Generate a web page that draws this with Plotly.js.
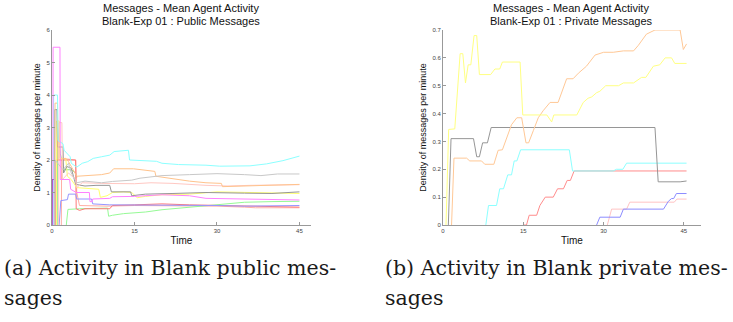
<!DOCTYPE html>
<html>
<head>
<meta charset="utf-8">
<script src="https://cdn.plot.ly/plotly-3.0.1.min.js"></script>
<style>html,body{margin:0;padding:0;background:#fff;}#chart{width:733px;height:322px;}</style>
</head>
<body>
<div id="chart"></div>
<script>
// ---------- Public messages (left) ----------
const pubMagentaT = [0.15, 0.2, 1.45, 1.5, 3.2, 3.4, 4.4, 6.8, 6.9, 7.3, 7.4, 10.5, 11, 15, 20, 25, 28, 35, 38, 45];
const pubMagentaV = [0, 5.47, 5.47, 1.4, 1.4, 1.1, 1.0, 1.0, 0.72, 0.72, 0.8, 0.82, 0.87, 0.88, 0.93, 0.9, 0.82, 0.8, 0.77, 0.77];
const pubCyanT = [0.25, 0.3, 1.0, 1.1, 2.0, 2.2, 3.3, 3.5, 4.5, 5.5, 6.5, 7.5, 9, 10.5, 11.3, 12.5, 13.9, 14.1, 19, 20, 23, 28, 30.5, 36, 39, 42, 45];
const pubCyanV = [0, 4.0, 4.0, 2.6, 2.5, 2.3, 2.1, 1.9, 1.78, 1.9, 1.95, 2.05, 2.1, 2.15, 2.26, 2.28, 2.3, 2.0, 1.96, 1.9, 1.86, 1.84, 1.81, 1.82, 1.88, 1.98, 2.12];
const pubLightGrayT = [0.5, 0.55, 2.0, 3.0, 3.5, 4.5, 6, 9, 11, 14.5, 16, 18, 20, 25, 30, 35, 38, 41, 45];
const pubLightGrayV = [0, 2.0, 1.7, 1.9, 1.6, 1.3, 1.35, 1.3, 1.34, 1.38, 1.44, 1.49, 1.52, 1.55, 1.58, 1.55, 1.52, 1.57, 1.57];
const pubPeachT = [0.5, 0.55, 1.0, 1.1, 2.5, 3.0, 4.5, 7, 9, 10.5, 11.2, 14.8, 18.7, 18.9, 22, 25, 28, 30.8, 31, 35, 40, 45];
const pubPeachV = [0, 3.75, 3.75, 2.0, 2.05, 1.95, 1.5, 1.52, 1.55, 1.6, 1.73, 1.73, 1.65, 1.5, 1.42, 1.35, 1.3, 1.28, 1.18, 1.2, 1.22, 1.25];
const pubPinkT = [1.2, 1.25, 1.8, 1.9, 3.0, 4.3, 4.5, 5.5, 9, 15, 18, 22, 28, 32, 36, 45];
const pubPinkV = [0, 3.15, 3.15, 1.4, 1.6, 1.4, 1.15, 1.3, 1.28, 1.27, 1.3, 1.28, 1.22, 1.2, 1.22, 1.24];
const pubDarkGrayT = [0.45, 0.5, 0.9, 1.0, 2.0, 2.1, 2.7, 3.5, 4.3, 6, 8, 10.5, 10.8, 14.3, 14.5, 17, 22, 28, 35, 40, 45];
const pubDarkGrayV = [0, 3.55, 3.55, 2.4, 2.4, 1.6, 1.8, 1.75, 1.25, 1.2, 1.22, 1.22, 1.02, 1.02, 0.9, 0.95, 0.97, 1.0, 0.98, 0.97, 1.02];
const pubYellowT = [0.8, 0.85, 1.3, 1.4, 2.5, 2.8, 3.5, 4.5, 8.5, 8.8, 10, 11, 13, 14.5, 15.5, 17, 20, 25, 30, 35, 40, 45];
const pubYellowV = [0, 3.2, 3.2, 2.05, 2.05, 1.5, 1.4, 1.15, 1.1, 0.85, 0.9, 1.0, 1.02, 1.0, 0.84, 0.88, 0.93, 0.95, 1.02, 1.0, 0.98, 0.97];
const pubBlueT = [1.3, 1.6, 2.8, 3.0, 4.3, 4.5, 7.2, 7.4, 10.5, 15, 20, 25, 30, 35, 40, 45];
const pubBlueV = [0, 0.75, 0.78, 0.95, 0.95, 0.8, 0.8, 0.65, 0.62, 0.62, 0.6, 0.62, 0.6, 0.58, 0.6, 0.6];
const pubRedT = [0.65, 0.7, 4.3, 4.4, 5, 6, 10.5, 11, 15, 20, 25, 30, 35, 40, 45];
const pubRedV = [0, 2.0, 2.0, 0.5, 0.45, 0.5, 0.5, 0.6, 0.62, 0.65, 0.62, 0.6, 0.58, 0.57, 0.55];
const pubGreenT = [2.6, 2.9, 5, 10.1, 10.3, 11, 13, 17, 20, 25, 30, 35, 40, 45];
const pubGreenV = [0, 0.48, 0.5, 0.52, 0.27, 0.3, 0.35, 0.4, 0.47, 0.55, 0.62, 0.7, 0.72, 0.73];
const pubGreen2T = [0.95, 1.0, 1.5, 2.2, 3.5, 4.3, 4.5];
const pubGreen2V = [0, 3.0, 2.2, 1.7, 1.7, 1.6, 1.45];
const pubSalmonT = [1.7, 1.75, 4.3, 4.5, 5, 10, 15, 25, 30, 35, 37, 45];
const pubSalmonV = [0, 2.05, 2.0, 1.0, 0.6, 0.58, 0.6, 0.6, 0.58, 0.55, 0.53, 0.53];
const pubPurpleT = [0.02, 0.05, 0.3];
const pubPurpleV = [0, 1.4, 1.4];

// ---------- Private messages (right) ----------
const privYellowT = [0.56, 1.06, 2.2, 3.2, 3.7, 4.2, 4.7, 5.2, 5.8, 6.3, 6.8, 8.9, 9.7, 10.6, 11.1, 14.4, 14.9, 19.4, 20.3, 20.7, 25, 26.2, 27.1, 27.8, 28.7, 29.3, 30.4, 32.8, 33.7, 35.6, 37.1, 37.9, 39.3, 40.5, 41.5, 42.7, 43.3, 45.5];
const privYellowV = [0, 0.343, 0.345, 0.615, 0.615, 0.51, 0.575, 0.575, 0.68, 0.68, 0.54, 0.54, 0.56, 0.56, 0.585, 0.585, 0.395, 0.395, 0.37, 0.395, 0.395, 0.44, 0.455, 0.46, 0.475, 0.48, 0.5, 0.5, 0.51, 0.51, 0.53, 0.53, 0.57, 0.575, 0.6, 0.6, 0.58, 0.58];
const privPeachT = [1.6, 2.05, 4.4, 5.0, 7.2, 7.8, 9.5, 10.3, 11.1, 11.9, 12.8, 13.8, 14.7, 15.5, 16.0, 16.9, 17.8, 18.7, 20, 21.5, 22.3, 23.1, 24.3, 25.3, 26.8, 28.4, 30, 31.8, 33.7, 35.6, 36.5, 38, 39.6, 44.3, 44.9, 45.5];
const privPeachV = [0, 0.24, 0.24, 0.23, 0.23, 0.218, 0.218, 0.268, 0.27, 0.31, 0.36, 0.385, 0.385, 0.295, 0.295, 0.34, 0.385, 0.41, 0.44, 0.44, 0.48, 0.525, 0.525, 0.545, 0.57, 0.61, 0.62, 0.62, 0.625, 0.625, 0.645, 0.685, 0.7, 0.7, 0.63, 0.65];
const privDarkGrayT = [1.0, 1.5, 5.7, 6.3, 6.8, 7.4, 8.3, 9.0, 39.6, 39.9, 40.2, 44.3, 45.5];
const privDarkGrayV = [0, 0.31, 0.31, 0.245, 0.245, 0.295, 0.295, 0.35, 0.35, 0.25, 0.155, 0.155, 0.158];
const privCyanT = [8.0, 8.5, 10, 10.6, 11.3, 12.1, 12.8, 13.3, 13.8, 14.5, 23.6, 24.2, 31.8, 32.4, 33.6, 34.3, 45.5];
const privCyanV = [0, 0.07, 0.07, 0.13, 0.13, 0.18, 0.18, 0.23, 0.23, 0.27, 0.27, 0.194, 0.194, 0.2, 0.2, 0.222, 0.222];
const privRedT = [15.0, 15.6, 16.1, 17.5, 18.1, 19.1, 20.6, 21.4, 22.5, 23.2, 23.8, 24.5, 45.5];
const privRedV = [0, 0.0, 0.035, 0.035, 0.07, 0.1, 0.1, 0.13, 0.13, 0.16, 0.16, 0.194, 0.194];
const privBlueT = [28.7, 29.3, 33.1, 33.7, 41.2, 42.1, 42.7, 43.1, 43.6, 45.5];
const privBlueV = [0, 0.028, 0.028, 0.057, 0.057, 0.085, 0.095, 0.095, 0.113, 0.113];
const privPinkT = [30.7, 31.5, 34.3, 34.9, 43.2, 43.7, 45.5];
const privPinkV = [0, 0.057, 0.057, 0.082, 0.082, 0.093, 0.093];

const xTickVals = [0, 15, 30, 45];
const xTickText = ['0', '15', '30', '45'];
const pubYTickVals = [0, 1, 2, 3, 4, 5, 6];
const pubYTickText = ['0', '1', '2', '3', '4', '5', '6'];
const privYTickVals = [0, 0.1, 0.2, 0.3, 0.4, 0.5, 0.6, 0.7];
const privYTickText = ['0', '0.1', '0.2', '0.3', '0.4', '0.5', '0.6', '0.7'];

function tr(x, y, color, xa, ya) {
  return {x: x, y: y, type: 'scatter', mode: 'lines', xaxis: xa, yaxis: ya,
          line: {color: color, width: 1}, hoverinfo: 'skip', showlegend: false};
}

const data = [
  tr(pubGreen2T, pubGreen2V, 'rgb(140,230,140)', 'x', 'y'),
  tr(pubSalmonT, pubSalmonV, 'rgb(255,175,165)', 'x', 'y'),
  tr(pubGreenT, pubGreenV, 'rgb(150,250,150)', 'x', 'y'),
  tr(pubRedT, pubRedV, 'rgb(255,120,120)', 'x', 'y'),
  tr(pubBlueT, pubBlueV, 'rgb(150,150,255)', 'x', 'y'),
  tr(pubYellowT, pubYellowV, 'rgb(255,255,110)', 'x', 'y'),
  tr(pubDarkGrayT, pubDarkGrayV, 'rgb(150,150,150)', 'x', 'y'),
  tr(pubPinkT, pubPinkV, 'rgb(255,200,195)', 'x', 'y'),
  tr(pubPeachT, pubPeachV, 'rgb(255,195,140)', 'x', 'y'),
  tr(pubLightGrayT, pubLightGrayV, 'rgb(200,200,200)', 'x', 'y'),
  tr(pubCyanT, pubCyanV, 'rgb(140,255,255)', 'x', 'y'),
  tr(pubMagentaT, pubMagentaV, 'rgb(255,130,255)', 'x', 'y'),
  tr(pubPurpleT, pubPurpleV, 'rgb(150,60,190)', 'x', 'y'),

  tr(privPinkT, privPinkV, 'rgb(255,195,195)', 'x2', 'y2'),
  tr(privBlueT, privBlueV, 'rgb(140,140,255)', 'x2', 'y2'),
  tr(privRedT, privRedV, 'rgb(255,140,140)', 'x2', 'y2'),
  tr(privCyanT, privCyanV, 'rgb(140,255,255)', 'x2', 'y2'),
  tr(privDarkGrayT, privDarkGrayV, 'rgb(150,150,150)', 'x2', 'y2'),
  tr(privPeachT, privPeachV, 'rgb(255,200,150)', 'x2', 'y2'),
  tr(privYellowT, privYellowV, 'rgb(255,255,130)', 'x2', 'y2')
];

const sans = 'Liberation Sans, Arial, sans-serif';
const axisCommon = {
  showline: true, linecolor: '#999', linewidth: 1, ticks: 'inside', ticklen: 3,
  tickcolor: '#999', tickwidth: 1, showgrid: false, zeroline: false,
  tickfont: {family: sans, size: 6, color: '#444'},
  fixedrange: true
};
const W = 733, H = 322;
const titleFont = {family: sans, size: 11, color: '#111'};
const axTitleFont = {family: sans, size: 10, color: '#111'};
const yTitleFont = {family: sans, size: 9, color: '#111'};
const capFont = {family: 'DejaVu Serif, serif', size: 20.5, color: '#1a1a1a'};

function ann(x, y, text, font, anchor) {
  return {xref: 'paper', yref: 'paper', x: x / W, y: (H - y) / H, xanchor: anchor || 'center',
          yanchor: 'middle', text: text, showarrow: false, font: font};
}

const layout = {
  width: W, height: H,
  margin: {l: 0, r: 0, t: 0, b: 0},
  paper_bgcolor: '#fff', plot_bgcolor: '#fff',
  showlegend: false,
  xaxis: Object.assign({}, axisCommon, {
    domain: [52 / W, 311 / W], range: [0, 47.1], anchor: 'y',
    tickvals: xTickVals, ticktext: xTickText,
    title: {text: 'Time', font: axTitleFont, standoff: 3}
  }),
  yaxis: Object.assign({}, axisCommon, {
    domain: [(H - 225) / H, (H - 30) / H], range: [0, 6], anchor: 'x',
    tickvals: pubYTickVals, ticktext: pubYTickText,
    title: {text: 'Density of messages per minute', font: yTitleFont, standoff: 4}
  }),
  xaxis2: Object.assign({}, axisCommon, {
    domain: [443 / W, 701 / W], range: [0, 48.2], anchor: 'y2',
    tickvals: xTickVals, ticktext: xTickText,
    title: {text: 'Time', font: axTitleFont, standoff: 3}
  }),
  yaxis2: Object.assign({}, axisCommon, {
    domain: [(H - 225) / H, (H - 30) / H], range: [0, 0.7], anchor: 'x2',
    tickvals: privYTickVals, ticktext: privYTickText,
    title: {text: 'Density of messages per minute', font: yTitleFont, standoff: 4}
  }),
  annotations: [
    ann(181, 8, 'Messages - Mean Agent Activity', titleFont),
    ann(181, 21, 'Blank-Exp 01 : Public Messages', titleFont),
    ann(571, 8, 'Messages - Mean Agent Activity', titleFont),
    ann(571, 21, 'Blank-Exp 01 : Private Messages', titleFont),
    ann(2, 268, '(a) Activity in Blank public mes-', capFont, 'left'),
    ann(2, 298, 'sages', capFont, 'left'),
    ann(383, 268, '(b) Activity in Blank private mes-', capFont, 'left'),
    ann(383, 298, 'sages', capFont, 'left')
  ]
};

Plotly.newPlot('chart', data, layout, {staticPlot: true, displayModeBar: false});
</script>
</body>
</html>
